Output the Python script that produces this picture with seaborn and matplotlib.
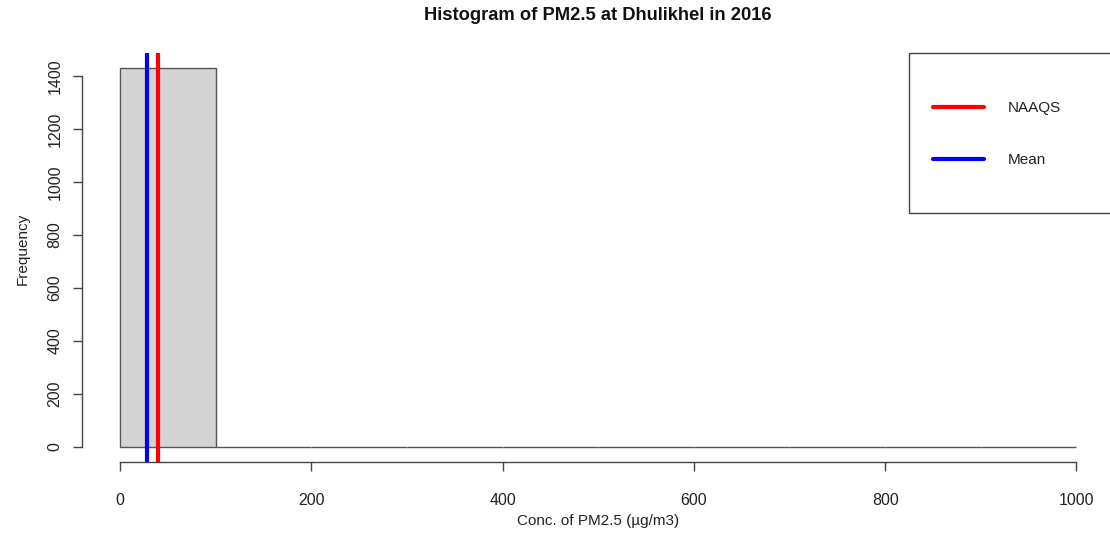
import numpy as np
import matplotlib
matplotlib.use("Agg")
import matplotlib.pyplot as plt
import matplotlib.patches as mpatches
import seaborn as sns

# histogram of PM2.5 concentrations (bin width 100)
bin_edges = [0, 100, 200, 300, 400, 500, 600, 700, 800, 900, 1000]
counts = [1430, 1, 0, 0, 0, 0, 0, 1, 0, 1]
naaqs = 40
mean_pm = 28.2
x_ticks = [0, 200, 400, 600, 800, 1000]
y_ticks = [0, 200, 400, 600, 800, 1000, 1200, 1400]

sns.set_style("white")
plt.rcParams['font.family'] = ['Liberation Sans', 'DejaVu Sans']
txt = '#222222'

fig = plt.figure(figsize=(11.1, 5.41), dpi=100)
ax = fig.add_axes([81.7 / 1110, 79 / 541, 1033 / 1110, 409 / 541])

mids = [(a + b) / 2 for a, b in zip(bin_edges[:-1], bin_edges[1:])]
sns.histplot(x=mids, weights=counts, bins=bin_edges, color='#D3D3D3',
             edgecolor='#555555', linewidth=1, alpha=1, ax=ax)

ax.axvline(naaqs, color='#FF0000', lw=3, label='NAAQS')
ax.axvline(mean_pm, color='#0000FF', lw=3, label='Mean')

ax.set_xlim(-40, 1040)
ax.set_ylim(-0.04 * max(counts), 1.04 * max(counts))
ax.set_xticks(x_ticks)
ax.set_yticks(y_ticks)
for s in ['top', 'right']:
    ax.spines[s].set_visible(False)
ax.spines['bottom'].set_bounds(0, 1000)
ax.spines['left'].set_bounds(0, 1400)
for s in ['bottom', 'left']:
    ax.spines[s].set_color('#444444')
    ax.spines[s].set_linewidth(1)
ax.tick_params(axis='x', length=6.5, width=1, color='#444444', pad=16,
               labelsize=11.5, labelcolor=txt, bottom=True)
ax.tick_params(axis='y', length=6.5, width=1, color='#444444', pad=7.5,
               labelsize=11.5, labelcolor=txt, left=True)
for lab in ax.get_yticklabels():
    lab.set_rotation(90)
    lab.set_va('center')

ax.set_xlabel('Conc. of PM2.5 (µg/m3)', fontsize=11, color=txt)
ax.set_ylabel('Frequency', fontsize=11, color=txt)
ax.xaxis.set_label_coords(0.5, -0.127)
ax.yaxis.set_label_coords(-0.05, 0.52)

fig.text(598 / 1110, 1 - 16 / 541, 'Histogram of PM2.5 at Dhulikhel in 2016',
         ha='center', va='center', fontsize=13.2, fontweight='bold', color='#111111')

# legend box
box = mpatches.Rectangle((909 / 1110, 1 - 213 / 541), 0.25, 160 / 541,
                         transform=fig.transFigure, fill=False,
                         edgecolor='#444444', lw=1, clip_on=False)
fig.add_artist(box)
fig.legend(loc='upper left', bbox_to_anchor=(933 / 1110, 1 - 101 / 541),
           bbox_transform=fig.transFigure, frameon=False, fontsize=11,
           handlelength=3.33, handletextpad=1.57, labelspacing=2.5,
           borderpad=0, borderaxespad=0, labelcolor=txt)

fig.savefig('out.png', dpi=100)
